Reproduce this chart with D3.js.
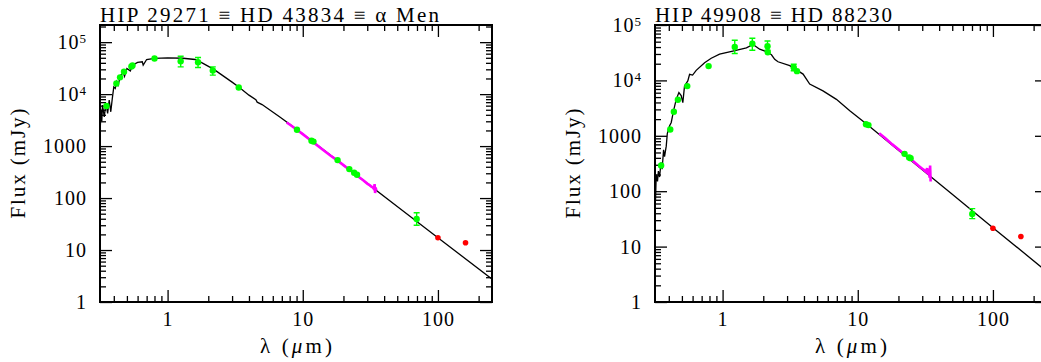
<!DOCTYPE html>
<html>
<head>
<meta charset="utf-8">
<style>
  body { margin: 0; background: #fff; }
  svg { display: block; }
  text { font-family: "Liberation Serif", "Times New Roman", serif; fill: #000; }
</style>
</head>
<body>
<svg id="sed" width="1041" height="362"></svg>
<script src="https://d3js.org/d3.v7.min.js"></script>
<script>
// ---- HIP 29271 = HD 43834 = alpha Men ----
var menModelWave = [0.318, 0.322, 0.326, 0.33, 0.34, 0.35, 0.36, 0.37, 0.38, 0.39, 0.40, 0.41, 0.42, 0.43, 0.45, 0.47, 0.48, 0.50, 0.53, 0.55, 0.60, 0.65, 0.66, 0.70, 0.80, 1.0, 1.3, 1.6, 1.8, 2.2, 3.0, 3.4, 4.0, 4.5, 4.6, 5.0, 6.85, 9.06, 20, 50, 100, 252];
var menModelFlux = [2400, 5000, 3000, 6150, 3660, 6620, 4260, 7670, 4570, 8260, 13800, 12900, 17300, 14800, 23200, 25700, 22000, 31200, 28000, 36100, 40700, 41800, 36000, 46400, 48600, 50000, 49000, 46400, 40000, 29900, 17000, 13400, 9560, 7800, 7000, 6300, 3560, 2080, 430, 69, 17.2, 2.75];

var menPhotWave = [0.353, 0.418, 0.445, 0.476, 0.54, 0.55, 0.80, 1.25, 1.68, 2.16, 3.36, 9.06, 11.6, 12.0, 18.1, 22.1, 24.0, 25.2, 69.6];
var menPhotFlux = [5900, 16000, 21000, 26900, 34000, 35500, 48500, 43000, 41000, 28600, 13400, 2060, 1270, 1220, 538, 361, 307, 281, 39.5];
var menPhotLo   = [null, null, null, null, null, null, null, 33500, 32600, 23200, null, null, null, null, null, null, null, null, 30];
var menPhotHi   = [null, null, null, null, null, null, null, 53700, 50800, 33500, null, null, null, null, null, null, null, null, 52];

var menIrsWave = [7.6, 8.0, 9.0, 10, 11, 12, 14, 16, 18, 20, 22, 24, 26, 28, 30, 31, 32, 33, 33.6, 34.0, 34.3, 34.6, 35.0];
var menIrsFlux = [2850, 2600, 2080, 1700, 1400, 1180, 860, 660, 530, 430, 355, 300, 255, 220, 190, 180, 168, 160, 150, 185, 125, 160, 140];

var menFarWave = [100, 160];
var menFarFlux = [17.2, 13.8];

// ---- HIP 49908 = HD 88230 ----
var hdModelWave = [0.319, 0.323, 0.33, 0.335, 0.342, 0.35, 0.357, 0.366, 0.372, 0.383, 0.39, 0.405, 0.417, 0.434, 0.454, 0.475, 0.494, 0.508, 0.523, 0.553, 0.57, 0.60, 0.638, 0.736, 0.824, 0.95, 1.19, 1.5, 1.68, 1.88, 2.11, 2.3, 2.43, 2.57, 3.14, 3.94, 4.41, 5.53, 6.95, 8.73, 11.8, 20, 50, 100, 252];
var hdModelFlux = [68, 200, 150, 230, 180, 330, 250, 560, 420, 650, 1100, 1500, 1740, 2840, 4550, 6050, 5310, 3980, 7920, 9800, 12900, 12500, 15200, 20900, 25100, 29700, 33900, 38700, 44600, 36600, 33000, 29000, 24000, 21700, 18500, 13000, 8600, 6470, 4550, 2840, 1590, 550, 88, 22, 3.5];

var hdPhotWave = [0.351, 0.41, 0.436, 0.467, 0.548, 0.788, 1.23, 1.66, 2.15, 2.16, 3.36, 3.55, 11.5, 12.0, 22.2, 24.0, 24.6, 70.3];
var hdPhotFlux = [291, 1300, 2720, 4480, 7890, 18100, 40200, 46100, 41400, 32300, 17100, 14700, 1620, 1560, 472, 405, 395, 38.7];
var hdPhotLo   = [null, null, null, null, null, null, 30500, 35100, 35100, null, 14900, null, null, null, null, null, null, 32];
var hdPhotHi   = [null, null, null, null, null, null, 53100, 57700, 51500, null, 19600, null, null, null, null, null, null, 48.4];

var hdIrsWave = [14.4, 16, 18, 20, 22, 24, 26, 28, 30, 31, 32, 32.6, 33.2, 33.6, 34.0, 34.3, 34.6];
var hdIrsFlux = [1110, 900, 700, 570, 470, 395, 340, 290, 255, 240, 225, 260, 200, 250, 175, 290, 150];

var hdFarWave = [100, 161];
var hdFarFlux = [21.4, 15.2];

var xMajor = [1, 10, 100];
var yMajor = [1, 10, 100, 1000, 1e4, 1e5];

var svg = d3.select("#sed");
var w = 392, h = 277, top0 = 25;

function drawPanel(cfg) {
  var g = svg.append("g").attr("transform", "translate(" + cfg.left + "," + top0 + ")");

  var x = d3.scaleLog().domain([Math.pow(10, -0.5), Math.pow(10, 2.4)]).range([0, w]);
  var y = d3.scaleLog().domain([1, cfg.yMax]).range([h, 0]);

  var xMinor = x.ticks().filter(function(d) { return xMajor.indexOf(d) < 0; });
  var yMinor = y.ticks().filter(function(d) { return yMajor.indexOf(d) < 0; });

  g.append("clipPath").attr("id", "clip" + cfg.id)
    .append("rect").attr("width", w).attr("height", h);

  // axes, ticks pointing inward
  var bottom = g.append("g").attr("class", "axis").attr("transform", "translate(0," + h + ")");
  bottom.append("g").call(d3.axisBottom(x).tickValues(xMinor).tickSize(-6).tickFormat(""));
  bottom.append("g").call(d3.axisBottom(x).tickValues(xMajor).tickSize(-12).tickPadding(10).tickFormat(d3.format("d")));

  var topAx = g.append("g").attr("class", "axis");
  topAx.append("g").call(d3.axisTop(x).tickValues(xMinor).tickSize(-6).tickFormat(""));
  topAx.append("g").call(d3.axisTop(x).tickValues(xMajor).tickSize(-12).tickFormat(""));

  var leftAx = g.append("g").attr("class", "axis");
  leftAx.append("g").call(d3.axisLeft(y).tickValues(yMinor).tickSize(-6).tickFormat(""));
  leftAx.append("g").call(d3.axisLeft(y).tickValues(yMajor.filter(function(d) { return d <= cfg.yMax; }))
    .tickSize(-12).tickPadding(13).tickFormat(function(d) { return d < 1e4 ? d3.format("d")(d) : ""; }))
    .selectAll(".tick text").each(function(d) {
      if (d >= 1e4) {
        var t = d3.select(this);
        t.append("tspan").text("10");
        t.append("tspan").attr("dy", "-0.45em").style("font-size", "13px").text(Math.round(Math.log10(d)));
      }
    });

  var rightAx = g.append("g").attr("class", "axis").attr("transform", "translate(" + w + ",0)");
  rightAx.append("g").call(d3.axisRight(y).tickValues(yMinor).tickSize(-6).tickFormat(""));
  rightAx.append("g").call(d3.axisRight(y).tickValues(yMajor.filter(function(d) { return d <= cfg.yMax; })).tickSize(-12).tickFormat(""));

  g.selectAll(".axis .domain").remove();
  g.selectAll(".axis line").attr("stroke", "#000").attr("stroke-width", 1.3);
  g.selectAll(".axis text").style("font-family", "Liberation Serif, serif")
    .style("font-size", "20px").style("letter-spacing", "1px").attr("fill", "#000");

  g.append("rect").attr("width", w).attr("height", h)
    .attr("fill", "none").attr("stroke", "#000").attr("stroke-width", 2);

  var plot = g.append("g").attr("clip-path", "url(#clip" + cfg.id + ")");

  var line = d3.line().x(function(d) { return x(d[0]); }).y(function(d) { return y(d[1]); });

  plot.append("path")
    .datum(d3.zip(cfg.modelWave, cfg.modelFlux))
    .attr("d", line).attr("fill", "none").attr("stroke", "#000").attr("stroke-width", 1.3);

  plot.append("path")
    .datum(d3.zip(cfg.irsWave, cfg.irsFlux))
    .attr("d", line).attr("fill", "none").attr("stroke", "#ff00ff").attr("stroke-width", 2.6);

  var phot = d3.range(cfg.photWave.length).map(function(i) {
    return { w: cfg.photWave[i], f: cfg.photFlux[i], lo: cfg.photLo[i], hi: cfg.photHi[i] };
  });
  var err = phot.filter(function(d) { return d.lo !== null; });

  plot.selectAll(".ebar").data(err).enter().append("path")
    .attr("class", "ebar")
    .attr("d", function(d) {
      var cx = x(d.w), y0 = y(d.lo), y1 = y(d.hi);
      return "M" + cx + "," + y0 + "V" + y1 + "M" + (cx - 3) + "," + y0 + "H" + (cx + 3) + "M" + (cx - 3) + "," + y1 + "H" + (cx + 3);
    })
    .attr("stroke", "#00ff00").attr("stroke-width", 1.4).attr("fill", "none");

  plot.selectAll(".phot").data(phot).enter().append("circle")
    .attr("class", "phot")
    .attr("cx", function(d) { return x(d.w); })
    .attr("cy", function(d) { return y(d.f); })
    .attr("r", 3.2).attr("fill", "#00ff00");

  plot.selectAll(".far").data(d3.zip(cfg.farWave, cfg.farFlux)).enter().append("circle")
    .attr("class", "far")
    .attr("cx", function(d) { return x(d[0]); })
    .attr("cy", function(d) { return y(d[1]); })
    .attr("r", 2.8).attr("fill", "#ff0000");

  // labels
  svg.append("text").attr("x", cfg.left).attr("y", 22)
    .attr("textLength", cfg.titleLen).attr("lengthAdjust", "spacing")
    .style("font-size", "21px").text(cfg.title);

  svg.append("text")
    .attr("transform", "translate(" + (cfg.left + w / 2) + ",353)")
    .attr("text-anchor", "middle").attr("textLength", 72).attr("lengthAdjust", "spacing")
    .style("font-size", "21px")
    .html("λ (<tspan font-style='italic'>μ</tspan>m)");

  svg.append("text")
    .attr("transform", "translate(" + (cfg.left - 75) + "," + (top0 + h / 2) + ") rotate(-90)")
    .attr("text-anchor", "middle").attr("textLength", 110).attr("lengthAdjust", "spacing")
    .style("font-size", "21px")
    .text("Flux (mJy)");
}

drawPanel({
  id: "men", left: 100, yMax: Math.pow(10, 5.33),
  title: "HIP 29271 ≡ HD 43834 ≡ α Men", titleLen: 339,
  modelWave: menModelWave, modelFlux: menModelFlux,
  photWave: menPhotWave, photFlux: menPhotFlux, photLo: menPhotLo, photHi: menPhotHi,
  irsWave: menIrsWave, irsFlux: menIrsFlux,
  farWave: menFarWave, farFlux: menFarFlux
});

drawPanel({
  id: "hd", left: 655, yMax: 1e5,
  title: "HIP 49908 ≡ HD 88230", titleLen: 237,
  modelWave: hdModelWave, modelFlux: hdModelFlux,
  photWave: hdPhotWave, photFlux: hdPhotFlux, photLo: hdPhotLo, photHi: hdPhotHi,
  irsWave: hdIrsWave, irsFlux: hdIrsFlux,
  farWave: hdFarWave, farFlux: hdFarFlux
});
</script>
</body>
</html>
